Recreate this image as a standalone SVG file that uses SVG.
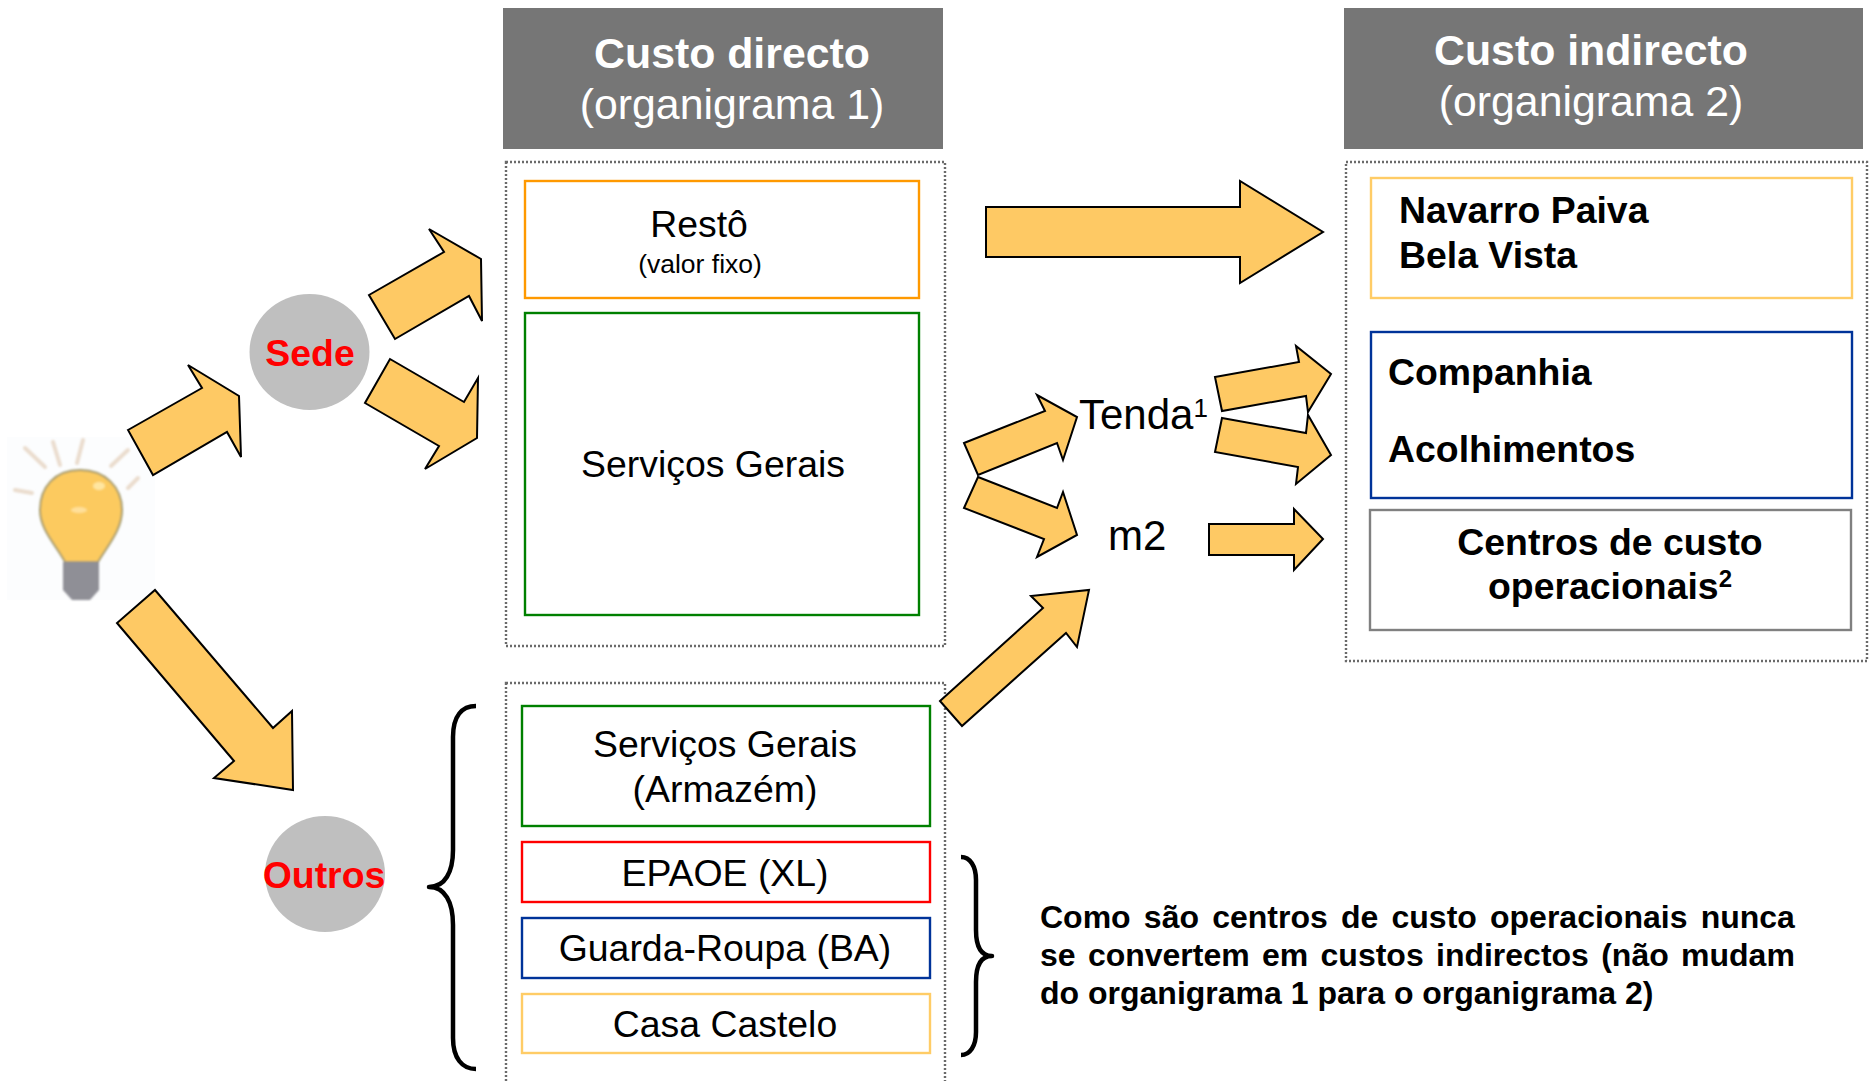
<svg xmlns="http://www.w3.org/2000/svg" width="1872" height="1081" viewBox="0 0 1872 1081">
<style>
text{font-family:"Liberation Sans",Arial,sans-serif;fill:#000}
.arrow{fill:#fec964;stroke:#000;stroke-width:2;stroke-linejoin:miter}
.dot{fill:none;stroke:#6a6a6a;stroke-width:2.4;stroke-dasharray:2 2}
.box{fill:#fff;stroke-width:2.4}
.hdr{fill:#767676}
.h1{font-size:42.8px;font-weight:bold;fill:#fff;text-anchor:middle}
.h2{font-size:42.8px;fill:#fff;text-anchor:middle}
.t{font-size:37.4px;text-anchor:middle}
.b{font-size:37.4px;font-weight:bold}
.c{font-size:37.4px;font-weight:bold;fill:#f00;text-anchor:middle}
.n{font-size:32px;font-weight:bold}
.brace{fill:none;stroke:#000;stroke-width:4.5;stroke-linejoin:round}
.circ{fill:#bfbfbf}
</style>
<defs><filter id="soft" x="-20%" y="-20%" width="140%" height="140%"><feGaussianBlur stdDeviation="1.2"/></filter></defs>
<rect width="1872" height="1081" fill="#fff"/>

<g id="bulb">
<rect x="7" y="437" width="148" height="163" fill="#fcfdfe"/>
<g filter="url(#soft)">
<g stroke="#eadccd" stroke-width="4" stroke-linecap="round" fill="none">
<path d="M25,448L45,467M53,442L60,465M83,440L77,463M128,450L111,466M15,490L32,493M138,478L128,488"/>
</g>
<path d="M80,470C105,470 122,487 122,510C122,530 108,545 98,562L65,562C56,545 40,530 40,510C40,487 55,470 80,470Z" fill="#fcca5e" stroke="#a49a6c" stroke-width="2"/>
<path d="M63,562H99V590L90,600H72L63,590Z" fill="#8f8f96"/>
<ellipse cx="99" cy="486" rx="6" ry="4" fill="#ffe6a0"/>
<ellipse cx="79" cy="510" rx="8" ry="3" fill="#ffe09a"/>
</g>
</g>

<g id="group-direct-top">
<rect class="dot" x="506" y="162" width="439" height="484"/>
</g>
<g id="group-direct-bottom">
<rect class="dot" x="506" y="683" width="439" height="420"/>
</g>
<g id="group-indirect">
<rect class="dot" x="1346" y="162" width="521" height="499"/>
</g>

<g id="connectors">
<polygon class="arrow" points="128,430 202,388 188,365 239,396 241,457 227,432 153,475"/>
<polygon class="arrow" points="369,295 444,252 429,229 481,259 482,321 469,296 395,339"/>
<polygon class="arrow" points="390,359 464,402 478,378 477,438 425,469 439,446 365,403"/>
<polygon class="arrow" points="155,590 273,728 292,711 293,790 214,778 234,761 117,623"/>
<polygon class="arrow" points="986,207 1240,207 1240,181 1323,232 1240,283 1240,257 986,257"/>
<polygon class="arrow" points="964,443 1045,411 1037,395 1077,417 1063,460 1057,443 978,475"/>
<polygon class="arrow" points="978,477 1057,508 1063,492 1077,535 1037,557 1044,539 964,508"/>
<polygon class="arrow" points="1215,377 1299,362 1296,346 1331,374 1308,412 1306,396 1222,411"/>
<polygon class="arrow" points="1222,418 1306,433 1308,415 1331,455 1296,484 1298,467 1215,452"/>
<polygon class="arrow" points="1209,524 1294,524 1294,509 1323,539 1294,570 1294,555 1209,555"/>
<polygon class="arrow" points="940,701 1043,608 1031,596 1089,590 1077,647 1066,633 962,726"/>
</g>

<g id="header-direct">
<rect class="hdr" x="503" y="8" width="440" height="141"/>
<text class="h1" x="732" y="68">Custo directo</text>
<text class="h2" x="732" y="119">(organigrama 1)</text>
</g>
<g id="header-indirect">
<rect class="hdr" x="1344" y="8" width="519" height="141"/>
<text class="h1" x="1591" y="65">Custo indirecto</text>
<text class="h2" x="1591" y="116">(organigrama 2)</text>
</g>

<g id="sede">
<ellipse class="circ" cx="309.500" cy="352" rx="60" ry="58"/>
<text class="c" x="310" y="366">Sede</text>
</g>
<g id="outros">
<ellipse class="circ" cx="325" cy="874" rx="60" ry="58"/>
<text class="c" x="324" y="888">Outros</text>
</g>

<g id="resto">
<rect class="box" x="525" y="181" width="394" height="117" stroke="#f90"/>
<text class="t" x="699" y="237">Restô</text>
<text class="t" x="700" y="273" style="font-size:26.500px">(valor fixo)</text>
</g>
<g id="servicos-gerais">
<rect class="box" x="525" y="313" width="394" height="302" stroke="#008000"/>
<text class="t" x="713" y="477">Serviços Gerais</text>
</g>
<g id="servicos-armazem">
<rect class="box" x="522" y="706" width="408" height="120" stroke="#008000"/>
<text class="t" x="725" y="757">Serviços Gerais</text>
<text class="t" x="725" y="802">(Armazém)</text>
</g>
<g id="epaoe">
<rect class="box" x="522" y="842" width="408" height="60" stroke="#f00"/>
<text class="t" x="725" y="886">EPAOE (XL)</text>
</g>
<g id="guarda-roupa">
<rect class="box" x="522" y="918" width="408" height="60" stroke="#039"/>
<text class="t" x="725" y="961">Guarda-Roupa (BA)</text>
</g>
<g id="casa-castelo">
<rect class="box" x="522" y="994" width="408" height="59" stroke="#fc6"/>
<text class="t" x="725" y="1037">Casa Castelo</text>
</g>

<g id="tenda">
<text x="1079" y="429" style="font-size:42px">Tenda<tspan dy="-12" style="font-size:26px">1</tspan></text>
</g>
<g id="m2">
<text x="1108" y="550" style="font-size:42px">m2</text>
</g>

<g id="navarro">
<rect class="box" x="1371" y="178" width="481" height="120" stroke="#fc6"/>
<text class="b" x="1399" y="223">Navarro Paiva</text>
<text class="b" x="1399" y="268">Bela Vista</text>
</g>
<g id="companhia">
<rect class="box" x="1371" y="332" width="481" height="166" stroke="#039"/>
<text class="b" x="1388" y="385">Companhia</text>
<text class="b" x="1388" y="462">Acolhimentos</text>
</g>
<g id="centros">
<rect class="box" x="1370" y="510" width="481" height="120" stroke="#808080"/>
<text class="b" x="1610" y="555" text-anchor="middle">Centros de custo</text>
<text class="b" x="1610" y="599" text-anchor="middle">operacionais<tspan dy="-12" style="font-size:24px">2</tspan></text>
</g>

<g id="braces">
<path class="brace" d="M476,706C462,706 453,716 453,737L453,850C453,872 445,887 429,887C445,887 453,902 453,925L453,1038C453,1058 462,1069 476,1069"/>
<path class="brace" d="M961,857C970,857 976,866 976,880L976,930C976,946 980,956 992,956C980,956 976,966 976,982L976,1032C976,1046 970,1055 961,1055"/>
</g>

<g id="note">
<text class="n" x="1040" y="928" word-spacing="4.3">Como são centros de custo operacionais nunca</text>
<text class="n" x="1040" y="966" word-spacing="3.4">se convertem em custos indirectos (não mudam</text>
<text class="n" x="1040" y="1004">do organigrama 1 para o organigrama 2)</text>
</g>
</svg>
